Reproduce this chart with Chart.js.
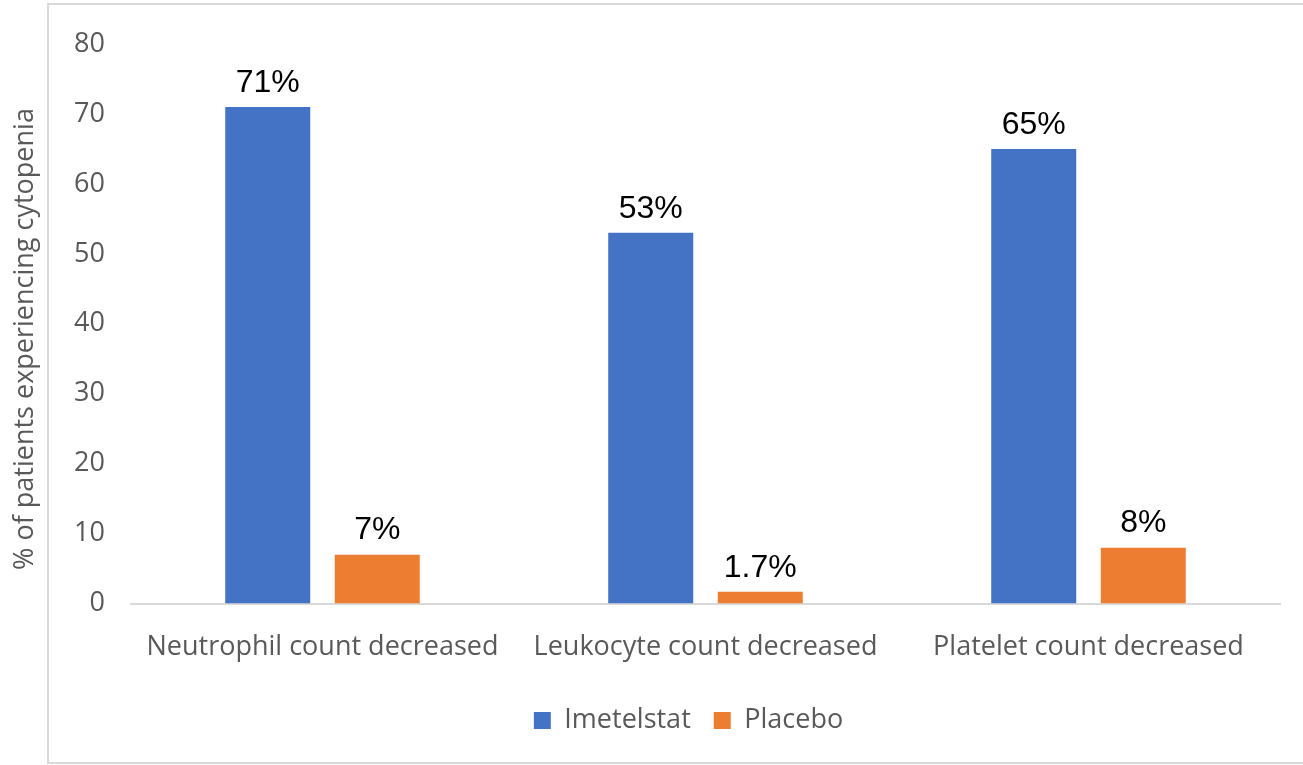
<!DOCTYPE html>
<html>
<head>
<meta charset="utf-8">
<script src="https://cdn.jsdelivr.net/npm/chart.js@4"></script>
<style>
  html, body { margin: 0; padding: 0; background: #fff; overflow: hidden; }
  #frame {
    position: absolute; left: 47px; top: 3px; width: 1300px; height: 757px;
    border: 2px solid #d9d9d9; background: #fff;
  }
  #wrap { position: absolute; left: 0; top: 0; width: 1303px; height: 765px; }
</style>
</head>
<body>
<div id="frame"></div>
<div id="wrap"><canvas id="cytopeniaChart"></canvas></div>
<script>
// categories and series
const categories = ['Neutrophil count decreased', 'Leukocyte count decreased', 'Platelet count decreased'];
const imetelstat = [71, 53, 65];
const placebo = [7, 1.7, 8];
const imetelstatLabels = ['71%', '53%', '65%'];
const placeboLabels = ['7%', '1.7%', '8%'];
const yTitle = '% of patients experiencing cytopenia';

const labelFont = { family: '"Open Sans", Lato, sans-serif', size: 27 };

// value labels above each bar + y axis title sitting outside the frame
const barLabels = {
    id: 'barLabels',
    afterLayout(chart) {
        // nudge legend a bit left, like the original
        chart.legend.left -= 17;
        chart.legend.right -= 17;
    },
    afterDatasetsDraw(chart) {
        const ctx = chart.ctx;
        const texts = [imetelstatLabels, placeboLabels];
        ctx.save();
        ctx.font = '32px "Liberation Sans", Arial, sans-serif';
        ctx.fillStyle = '#000';
        ctx.textAlign = 'center';
        ctx.textBaseline = 'bottom';
        chart.data.datasets.forEach((ds, i) => {
            chart.getDatasetMeta(i).data.forEach((bar, j) => {
                ctx.fillText(texts[i][j], bar.x, bar.y - 8);
            });
        });
        ctx.restore();

        ctx.save();
        ctx.font = '27px "Open Sans", Lato, sans-serif';
        ctx.fillStyle = '#595959';
        ctx.textAlign = 'center';
        ctx.textBaseline = 'middle';
        ctx.translate(25, 339);
        ctx.rotate(-Math.PI / 2);
        ctx.fillText(yTitle, 0, 0);
        ctx.restore();
    }
};

const ctx = document.getElementById('cytopeniaChart').getContext('2d');
const cytopeniaChart = new Chart(ctx, {
    type: 'bar',
    data: {
        labels: categories,
        datasets: [{
            label: 'Imetelstat',
            data: imetelstat,
            backgroundColor: '#4472c4',
            categoryPercentage: 0.572,
            barPercentage: 0.776
        }, {
            label: 'Placebo',
            data: placebo,
            backgroundColor: '#ed7d31',
            categoryPercentage: 0.572,
            barPercentage: 0.776
        }]
    },
    options: {
        responsive: true,
        maintainAspectRatio: false,
        animation: false,
        layout: {
            padding: { top: 44, right: 23, left: 6, bottom: 21 }
        },
        scales: {
            x: {
                grid: { display: false },
                border: { color: '#d9d9d9', width: 2 },
                ticks: {
                    color: '#595959',
                    font: labelFont,
                    maxRotation: 0,
                    padding: 20
                }
            },
            y: {
                min: 0,
                max: 80,
                grid: { display: false },
                border: { display: false },
                afterFit(scale) { scale.width = 125; },
                ticks: {
                    stepSize: 10,
                    color: '#595959',
                    font: labelFont,
                    padding: 18
                }
            }
        },
        plugins: {
            legend: {
                position: 'bottom',
                fullSize: false,
                labels: {
                    color: '#595959',
                    font: labelFont,
                    boxWidth: 17,
                    boxHeight: 17,
                    padding: 23
                }
            },
            tooltip: { enabled: false }
        }
    },
    plugins: [barLabels]
});
</script>
</body>
</html>
